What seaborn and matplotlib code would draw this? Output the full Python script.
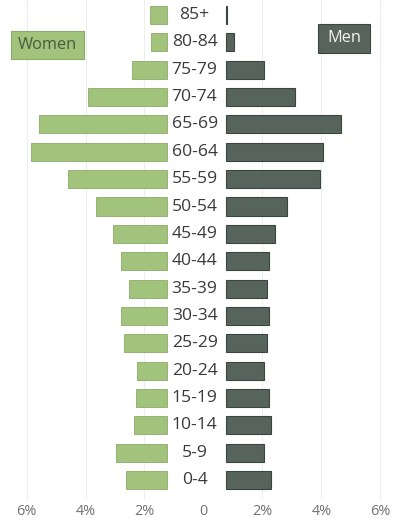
import matplotlib
matplotlib.use("Agg")
import matplotlib.pyplot as plt
from matplotlib.patches import Rectangle
import numpy as np
import pandas as pd
import seaborn as sns

# ---- data (percent of population) ----
ages = ["85+", "80-84", "75-79", "70-74", "65-69", "60-64", "55-59", "50-54",
        "45-49", "40-44", "35-39", "30-34", "25-29", "20-24", "15-19", "10-14",
        "5-9", "0-4"]
women = [0.58, 0.57, 1.22, 2.68, 4.37, 4.64, 3.36, 2.41, 1.86, 1.59,
         1.29, 1.59, 1.46, 1.05, 1.08, 1.15, 1.73, 1.42]
men = [0.05, 0.30, 1.29, 2.37, 3.90, 3.32, 3.19, 2.10, 1.66, 1.49,
       1.42, 1.49, 1.42, 1.29, 1.46, 1.53, 1.32, 1.53]
tick_vals = [-6, -4, -2, 0, 2, 4, 6]
tick_labels = ["6%", "4%", "2%", "0", "2%", "4%", "6%"]

df = pd.DataFrame({"age": ages, "women": women, "men": men})

sns.set_theme(style="white")
plt.rcParams["font.family"] = ["Open Sans", "DejaVu Sans"]

GREEN = "#a2c37c"
GREEN_EDGE = "#8cab69"
DARK = "#56645b"
DARK_EDGE = "#3b4640"
gap_left = 1.22
gap_right = 0.75

fig = plt.figure(figsize=(4.01, 5.29), dpi=100)
fig.patch.set_facecolor("white")
ax = fig.add_axes([0, 29 / 529, 1, 500 / 529])
ax.set_facecolor("white")

sns.barplot(data=df, y="age", x="women", order=ages, color=GREEN, saturation=1,
            width=0.66, errorbar=None, edgecolor=GREEN_EDGE, linewidth=0.6, ax=ax)
n = len(ages)
for p, v in zip(ax.patches[:n], women):
    p.set_x(-gap_left - v)
    p.set_width(v)

sns.barplot(data=df, y="age", x="men", order=ages, color=DARK, saturation=1,
            width=0.66, errorbar=None, edgecolor=DARK_EDGE, linewidth=0.8, ax=ax)
for p, v in zip(ax.patches[n:], men):
    p.set_x(gap_right)
    p.set_width(v)

for i, a in enumerate(ages):
    ax.text(-0.3, i, a, ha="center", va="center", fontsize=12.6, color="#3a3a3a")

ax.set_xlim(-6.9, 6.7)
ax.set_ylim(17.73, -0.55)
ax.set_xticks(tick_vals)
ax.set_xticklabels(tick_labels, fontsize=10.4, color="#707070")
ax.set_yticks([])
ax.set_xlabel("")
ax.set_ylabel("")
ax.tick_params(axis="x", length=0, pad=3)
for s in ax.spines.values():
    s.set_visible(False)
for t in [-6, -4, -2, 2, 4, 6]:
    ax.axvline(t, color="#eeeeee", lw=0.8, zorder=0)

# legend boxes
W, H = 401, 529
def box(x0, y0, x1, y1, fc, ec, text, tc):
    fig.patches.append(Rectangle((x0 / W, 1 - y1 / H), (x1 - x0) / W, (y1 - y0) / H,
                                 transform=fig.transFigure, facecolor=fc,
                                 edgecolor=ec, lw=0.8))
    fig.text((x0 + x1) / 2 / W, 1 - (y0 + y1) / 2 / H, text, ha="center",
             va="center", fontsize=11.8, color=tc)

box(11, 31, 84, 59, GREEN, GREEN_EDGE, "Women", "#4a5a3d")
box(318, 24, 370, 53, DARK, DARK_EDGE, "Men", "#f2f2f2")

fig.savefig("out.png", dpi=100, facecolor="white")
